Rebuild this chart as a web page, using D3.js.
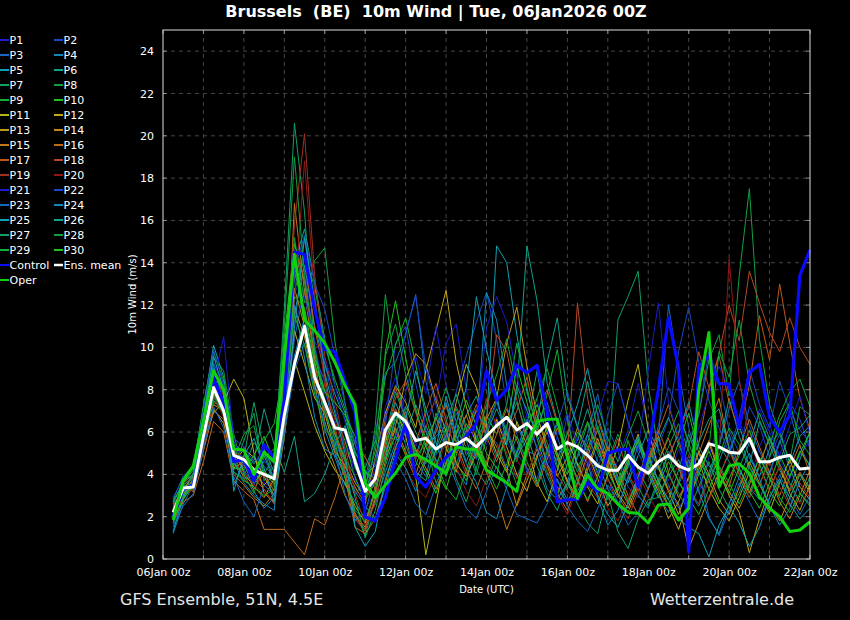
<!DOCTYPE html>
<html>
<head>
<meta charset="utf-8">
<script src="https://cdn.jsdelivr.net/npm/d3@7.9.0/dist/d3.min.js"></script>
<style>
  html, body { margin: 0; padding: 0; background: #000; }
  svg { display: block; font-family: "DejaVu Sans", sans-serif; }
</style>
</head>
<body>
<svg id="chart" width="850" height="620"></svg>
<script>
// forecast steps: every 6 h from +6 h to +384 h
const hours = d3.range(6, 385, 6);
const dayTicks = d3.range(0, 385, 24);
const labelTicks = [0, 48, 96, 144, 192, 240, 288, 336, 384];
const tickLabels = ["06Jan 00z", "08Jan 00z", "10Jan 00z", "12Jan 00z", "14Jan 00z",
  "16Jan 00z", "18Jan 00z", "20Jan 00z", "22Jan 00z"];
const yTicks = d3.range(0, 25, 2);

// ensemble members (m/s)
const p01 = [2.0,3.1,3.6,6.2,8.6,7.2,4.4,4.9, 4.1,3.6,3.3,7.5,12.5,13.8,10.1,7.9, 6.4,5.9,3.9,2.4,3.1,7.2,8.6,6.9, 5.3,6.8,7.4,10.2,11.1,8.0,6.2,5.4, 6.7,5.5,4.8,6.9,7.6,5.1,3.2,4.4, 5.8,4.6,3.3,2.9,4.7,6.1,8.3,6.2, 4.4,3.7,5.2,4.0,3.1,4.8,6.6,5.5, 4.1,3.6,5.3,6.4,4.7,3.8,4.9,5.6];
const p02 = [1.6,2.8,3.9,6.6,9.3,8.1,5.3,4.2, 3.5,4.4,3.9,8.1,13.2,15.1,12.0,9.3, 7.1,5.2,4.4,3.1,4.6,6.3,10.2,11.0, 8.3,6.1,4.9,5.6,7.9,9.6,11.2,12.6, 10.4,7.2,5.9,4.1,3.8,5.2,4.6,6.8, 4.3,3.6,4.8,6.2,5.1,3.4,2.9,4.5, 6.3,8.1,7.0,5.4,6.9,9.8,8.4,6.1, 5.0,7.2,6.3,4.8,5.9,7.4,6.6,5.2];
const p03 = [2.5,3.4,3.2,5.4,7.6,6.9,4.1,3.8, 3.9,4.6,4.2,6.4,10.4,12.8,9.6,8.4, 5.6,4.4,3.0,3.8,5.9,8.8,9.3,10.6, 12.5,8.4,6.3,5.2,4.4,6.0,7.1,5.8, 5.5,4.3,3.9,5.0,6.2,7.4,5.8,4.2, 3.5,5.9,7.8,5.4,3.7,4.3,5.6,4.1, 5.7,12.0,8.9,6.2,4.6,3.9,5.3,7.1, 8.4,6.3,5.1,4.0,5.5,6.9,5.3,4.4];
const p04 = [1.2,2.6,3.5,5.9,9.0,7.8,3.5,4.6, 3.2,2.4,2.9,6.2,9.6,11.4,8.7,6.1, 4.8,3.5,2.7,1.9,2.6,4.1,5.5,7.0, 4.6,3.9,5.8,6.3,4.2,3.5,6.1,12.6, 11.3,8.2,6.4,5.1,4.9,3.3,2.8,3.6, 5.4,4.5,2.9,1.6,2.3,3.9,3.0,2.4, 3.6,5.1,4.4,3.2,2.5,3.8,4.6,5.9, 4.2,3.4,2.8,4.1,5.6,4.3,3.1,2.6];
const p05 = [2.8,3.9,4.4,7.1,10.1,8.6,5.4,5.1, 4.5,5.2,4.1,7.9,11.6,13.9,11.0,9.2, 7.8,6.6,5.1,4.0,4.4,5.6,7.4,6.2, 4.9,6.3,5.2,7.7,5.9,4.6,5.8,6.4, 14.8,14.0,10.6,7.9,6.2,5.1,4.7,5.9, 7.3,9.0,6.8,5.2,4.1,3.6,4.9,6.1, 5.2,4.7,6.0,7.4,5.3,4.4,3.9,5.0, 6.3,4.8,3.9,5.2,6.1,4.5,5.8,6.3];
const p06 = [2.3,3.0,3.7,6.0,8.2,7.5,4.8,4.3, 5.5,4.9,3.6,9.2,14.0,15.6,13.1,10.4, 8.2,6.9,5.4,4.2,3.3,4.9,6.6,5.8, 7.3,6.0,4.7,3.9,5.5,6.8,7.7,6.1, 4.8,5.6,7.9,14.8,12.2,8.3,6.5,4.9, 5.6,7.1,5.4,3.8,2.9,4.4,5.7,4.3, 3.5,2.8,4.2,5.9,4.6,3.9,5.3,7.6, 5.8,4.4,6.5,5.4,4.2,3.3,4.7,6.0];
const p07 = [1.9,3.5,3.3,5.6,7.9,6.8,4.2,5.6, 6.9,3.7,4.4,11.8,20.6,16.4,9.8,7.2, 5.3,4.1,2.2,1.1,2.9,5.8,7.9,6.6, 5.1,4.5,6.9,5.7,3.8,2.7,4.3,6.2, 7.5,5.9,4.6,6.3,8.9,6.1,4.4,3.3, 4.9,6.4,5.0,4.1,11.3,12.4,13.6,8.2, 5.1,3.9,4.7,3.3,2.6,4.1,5.4,4.6, 3.8,2.9,4.4,5.8,4.5,3.6,2.7,3.9];
const p08 = [2.6,3.2,4.1,6.8,9.5,8.9,5.9,4.0, 3.1,4.8,5.2,8.6,15.2,12.1,14.1,14.7, 10.3,7.4,4.9,3.1,6.3,12.5,8.8,6.4, 4.8,5.5,3.6,4.4,6.1,5.3,4.0,5.7, 6.4,4.8,3.5,4.9,6.7,5.5,4.3,6.0, 5.2,3.9,3.1,4.6,5.9,4.7,3.4,2.5, 3.8,4.9,3.6,5.4,6.8,9.4,10.6,7.7, 13.4,17.5,10.4,7.3,5.9,4.6,7.2,6.8];
const p09 = [2.1,3.6,4.2,7.3,9.8,8.4,5.0,4.5, 4.0,5.6,6.4,9.1,12.7,14.2,12.9,10.1, 8.5,7.1,4.3,3.5,5.1,8.6,10.1,11.4, 9.2,6.7,5.0,6.2,4.6,3.7,5.3,6.8, 5.9,7.3,10.2,8.1,6.0,7.8,9.9,6.6, 4.4,5.1,6.3,4.8,3.5,5.6,4.2,3.3, 4.6,5.8,7.0,5.5,4.1,3.6,4.9,6.2, 5.4,4.3,3.5,4.8,6.5,7.4,5.6,4.9];
const p10 = [1.7,3.0,3.8,6.3,8.8,7.9,4.6,3.9, 3.6,4.2,3.5,10.5,14.9,13.1,9.5,8.0, 6.7,5.6,3.8,2.8,3.6,9.8,12.2,9.5, 7.1,5.3,4.2,3.3,4.9,6.4,5.6,4.5, 3.9,6.2,9.1,7.4,5.7,4.1,3.0,4.5, 6.0,5.3,4.1,2.8,3.4,4.8,5.5,4.0, 2.9,4.1,5.5,6.9,5.0,3.7,2.6,3.8, 4.9,6.1,4.5,3.2,2.5,3.9,5.1,4.4];
const p11 = [2.4,3.3,3.9,5.6,6.9,7.4,8.5,7.6, 5.0,3.1,2.7,5.8,9.4,7.9,6.3,5.1, 4.2,3.6,2.5,1.7,3.2,5.5,7.1,5.8, 3.9,0.2,2.6,5.1,7.4,9.2,8.1,6.3, 5.0,4.1,6.5,5.4,3.6,2.7,4.2,5.6, 4.5,3.4,2.6,4.0,5.3,7.5,9.2,6.1, 4.3,3.2,2.1,3.5,4.6,3.3,2.4,1.8, 2.9,4.1,3.0,2.2,3.6,4.7,3.4,2.8];
const p12 = [2.2,2.9,3.4,5.2,7.1,6.4,4.5,5.2, 4.8,3.9,3.0,6.6,10.8,9.2,7.6,6.9, 5.1,4.4,3.4,2.6,4.8,6.9,8.2,7.4, 6.2,8.9,10.8,12.7,9.3,7.2,5.6,4.3, 6.6,5.3,4.0,3.2,4.8,6.3,5.0,3.7, 2.9,4.4,5.7,4.3,3.1,2.4,3.6,4.9, 3.7,2.5,1.4,2.8,4.2,5.5,4.1,3.0, 2.2,0.3,1.9,3.3,4.4,3.1,2.3,3.5];
const p13 = [2.7,3.6,4.0,6.1,7.3,7.0,5.2,4.1, 3.4,2.9,3.8,7.2,11.9,10.5,8.1,7.4, 5.9,4.7,3.6,2.9,3.7,5.0,6.3,8.5, 9.7,9.2,7.5,6.0,4.5,3.9,5.0,6.6, 7.6,10.2,11.9,9.1,6.8,5.2,3.9,4.8, 6.2,5.0,3.8,2.5,3.3,4.6,5.9,4.2, 3.2,1.9,2.7,3.9,5.1,4.0,2.8,2.1, 3.4,4.6,3.6,2.5,1.8,2.9,4.0,3.1];
const p14 = [2.0,3.1,3.6,5.7,7.8,7.1,4.3,4.6, 4.1,3.5,4.0,8.2,12.8,11.0,8.3,5.6, 4.4,3.0,2.1,1.5,2.8,4.6,6.2,5.1, 4.0,5.4,6.7,5.3,4.1,5.8,7.0,6.2, 5.3,4.2,2.5,3.7,4.9,6.0,4.8,3.6, 2.8,4.2,5.5,4.7,3.5,2.6,3.9,5.2, 4.4,3.3,2.6,0.5,1.7,2.9,4.1,3.2, 2.4,3.5,4.8,3.9,2.7,1.9,3.0,4.2];
const p15 = [2.3,3.4,3.2,5.1,7.0,6.6,4.0,3.5, 2.9,2.5,3.1,6.3,16.8,12.6,9.4,6.5, 5.0,3.9,1.5,1.2,1.9,3.6,5.3,6.4, 5.2,4.3,3.3,4.5,5.9,6.8,5.4,4.1, 3.0,1.4,2.6,4.0,5.2,4.4,3.1,2.3, 3.6,4.9,6.1,4.5,3.0,2.2,3.4,4.6, 5.8,4.1,2.9,3.8,5.0,6.3,7.6,5.2, 4.0,3.1,4.5,5.7,4.4,3.2,4.1,3.3];
const p16 = [1.8,2.7,3.0,4.6,6.5,6.0,3.7,3.2, 2.8,1.4,1.4,1.4,0.8,0.2,1.9,1.6, 2.9,4.5,5.6,4.8,3.9,5.2,6.1,4.9, 3.8,4.7,6.0,7.3,5.5,4.2,3.3,4.6, 5.9,7.1,5.6,4.3,3.4,4.7,6.2,5.0, 3.8,2.7,3.9,5.3,4.2,3.0,2.1,3.3, 4.6,5.7,4.3,3.1,4.4,5.6,4.3,3.4, 5.2,6.6,5.3,4.1,3.0,4.3,5.4,4.0];
const p17 = [2.5,3.3,3.7,5.5,7.4,7.2,4.9,3.8, 3.3,4.1,3.2,7.7,13.5,14.3,10.9,8.7, 6.0,4.2,2.0,1.4,3.5,6.7,8.1,6.7, 5.5,7.0,8.3,6.6,5.0,6.1,7.3,5.8, 4.6,5.9,7.0,8.6,6.3,4.5,3.4,2.6, 3.9,5.2,6.6,5.1,3.9,2.8,3.7,4.8, 6.0,7.3,5.6,4.2,5.5,8.0,9.6,7.4, 6.1,8.2,11.5,9.4,13.0,10.2,7.6,6.1];
const p18 = [2.1,3.2,3.5,5.9,8.3,7.4,4.7,4.4, 3.8,3.3,2.6,8.9,14.6,13.3,9.1,7.0, 6.3,4.0,1.9,1.3,3.0,5.7,7.6,8.4, 6.9,5.6,4.4,5.8,7.2,6.1,4.9,6.6, 10.6,9.8,7.5,5.6,6.9,8.0,6.4,5.0, 12.1,7.6,5.3,4.4,5.7,4.0,3.2,4.6, 6.1,4.9,5.9,7.2,9.8,8.1,9.7,12.0, 10.3,13.6,12.1,10.7,9.8,11.4,10.0,9.2];
const p19 = [2.4,3.5,3.8,6.4,8.9,7.7,5.1,4.8, 4.3,3.9,3.4,7.9,15.8,20.1,13.4,9.6, 7.5,5.3,3.1,1.6,2.6,5.1,7.1,6.0, 4.7,6.2,7.7,6.4,5.2,4.0,5.5,7.6, 6.3,5.0,3.8,4.9,6.1,5.3,4.0,3.2, 2.8,3.5,2.9,3.8,2.6,1.9,3.2,4.4, 3.3,2.5,3.7,4.9,3.6,2.8,3.9,5.1, 4.0,2.9,3.5,4.6,3.4,2.5,3.6,2.9];
const p20 = [2.0,3.0,3.3,5.3,7.7,6.7,4.4,4.1, 3.5,3.1,2.8,6.8,12.2,18.8,12.5,8.1, 6.6,4.8,3.3,2.7,4.1,6.0,5.3,4.3, 3.4,2.9,4.1,5.6,4.4,3.2,2.5,3.8, 5.1,6.3,4.7,3.9,5.4,4.2,3.0,2.1, 3.4,4.8,3.6,2.4,1.8,2.9,4.1,3.0, 2.2,3.3,4.5,3.4,2.6,3.7,5.0,14.2, 8.5,5.6,4.3,3.2,4.4,3.5,2.6,3.3];
const p21 = [2.2,3.4,3.4,6.0,8.4,10.5,5.6,4.5, 4.0,4.7,3.9,7.0,11.2,12.4,10.3,9.4, 8.2,6.5,3.7,3.0,4.3,6.1,5.6,7.9, 9.6,7.8,11.0,8.2,6.3,5.0,6.4,10.9, 12.4,11.2,8.6,6.7,5.3,4.4,5.8,6.9, 5.4,4.3,6.7,8.4,8.3,6.4,5.1,8.9, 12.1,7.4,5.7,4.5,6.2,7.8,9.1,8.0, 6.5,5.3,7.1,6.0,4.9,6.3,7.7,5.9];
const p22 = [2.9,3.8,4.3,7.0,9.9,8.2,5.7,5.3, 4.6,5.0,4.5,9.5,13.7,15.3,13.0,11.8, 9.6,7.3,5.5,3.9,4.7,6.8,8.0,10.7, 12.4,9.0,7.3,5.5,6.9,5.8,4.7,6.0, 7.4,6.1,5.0,4.3,3.6,4.9,6.4,7.9, 6.3,5.0,4.0,6.8,8.3,6.5,5.0,4.1, 5.3,6.6,9.8,11.9,9.3,7.5,6.2,5.0, 6.7,9.0,7.3,6.2,8.4,7.0,6.1,5.5];
const p23 = [1.5,2.5,3.1,5.2,7.2,6.2,3.9,2.7, 2.0,3.5,3.0,5.9,8.9,10.2,8.0,6.4, 5.2,3.1,1.8,2.2,4.0,5.3,4.6,3.8, 2.6,2.1,3.5,4.8,3.6,2.4,1.9,3.2, 4.4,3.3,2.1,1.9,1.7,2.6,3.8,2.5, 1.8,1.3,2.4,3.5,2.7,1.6,2.2,3.4, 4.5,3.5,2.4,3.1,4.2,2.0,1.1,2.3, 3.6,2.7,1.8,2.9,4.0,2.9,2.1,3.0];
const p24 = [2.6,3.7,4.0,6.5,9.2,7.3,4.6,3.6, 3.0,2.6,2.3,6.9,12.0,9.5,6.7,5.2, 4.9,4.1,3.2,2.5,1.9,3.4,5.0,4.3, 3.2,4.7,6.2,7.4,5.8,4.5,3.6,2.2, 1.9,3.4,5.1,6.6,5.2,3.9,2.9,3.5, 4.8,5.9,4.6,3.3,2.5,3.8,5.4,4.2, 3.0,2.2,3.5,4.7,3.2,1.9,1.2,2.6, 3.9,5.0,3.8,2.5,1.6,2.4,3.7,4.6];
const p25 = [1.3,2.9,3.7,6.7,9.6,8.0,3.2,4.9, 5.7,4.3,2.7,6.5,10.9,15.2,12.2,8.8, 6.9,5.0,1.5,0.6,1.3,3.8,5.2,6.6, 8.9,7.1,5.5,4.1,6.4,8.1,12.4,9.9, 7.8,5.4,8.2,7.0,5.9,4.5,3.7,2.8, 3.2,4.1,3.0,2.1,1.5,2.6,3.9,4.8, 3.7,2.8,1.9,1.5,1.2,0.1,1.6,2.5, 1.7,0.6,1.5,2.9,3.8,2.6,1.9,2.4];
const p26 = [2.4,3.1,4.0,6.4,8.0,7.6,4.5,4.0, 4.7,7.1,5.4,4.1,5.8,2.7,3.1,4.0, 5.4,6.3,5.0,4.3,5.6,4.7,6.8,5.4, 4.1,3.7,5.2,6.5,7.8,6.2,4.8,5.9, 7.1,6.0,4.8,5.7,6.4,9.3,11.4,7.7, 6.2,8.4,6.1,4.9,3.6,4.7,5.8,4.5, 5.6,6.7,5.4,4.3,5.5,6.6,7.1,5.2, 4.3,5.5,6.9,5.7,4.6,5.9,6.2,6.8];
const p27 = [2.7,3.5,3.9,6.2,8.5,8.1,4.9,4.8, 7.4,5.1,3.7,8.4,13.6,11.7,8.9,6.9, 5.7,4.6,2.9,1.0,2.3,4.4,5.9,7.2, 6.0,5.0,4.3,5.9,7.1,5.6,4.2,3.5, 4.9,6.3,7.4,5.9,4.4,3.1,2.3,3.6, 2.6,1.7,1.2,3.1,1.3,0.5,1.9,2.8, 2.9,4.0,3.1,2.3,3.4,4.6,3.3,2.4, 3.1,4.4,3.5,2.6,3.7,2.9,4.0,3.4];
const p28 = [2.0,3.3,3.6,5.8,7.5,6.9,4.7,5.9, 6.3,4.0,4.9,11.0,19.0,13.4,10.0,7.5, 6.0,4.8,3.9,2.7,5.5,9.6,11.1,8.7, 7.0,5.7,6.6,8.1,6.5,4.9,5.6,7.3, 8.7,10.4,8.0,6.1,7.6,9.0,7.2,5.3, 4.1,5.5,7.3,5.7,4.6,5.8,7.0,5.5, 4.2,5.3,6.4,5.1,4.0,5.2,9.8,8.6, 11.3,8.3,6.6,5.4,6.8,7.9,8.5,7.2];
const p29 = [2.3,3.0,3.4,5.5,7.7,7.0,4.1,3.7, 3.4,3.0,3.3,7.4,11.5,10.1,7.8,6.2, 5.5,3.8,2.3,1.8,3.3,4.8,5.8,5.0, 4.4,5.8,4.6,3.4,2.8,4.2,5.7,4.3, 3.3,4.5,5.8,4.6,3.5,5.1,6.5,4.9, 3.7,2.8,3.9,5.0,3.9,2.7,3.6,4.7, 3.4,2.5,3.6,2.9,2.1,3.3,4.4,3.6, 2.6,3.7,4.8,3.8,2.9,2.2,3.1,2.5];
const p30 = [1.9,2.8,3.6,6.0,8.1,7.3,4.3,4.2, 4.9,5.8,4.6,8.0,12.4,11.9,9.2,7.9, 7.4,6.8,5.8,4.1,3.8,5.3,6.9,6.1, 5.1,4.1,3.1,4.6,5.9,7.5,6.3,5.0, 4.3,3.6,5.0,6.2,7.3,6.0,4.9,4.0, 5.3,6.5,5.2,4.1,3.2,4.5,5.6,4.4, 3.5,4.6,3.7,2.8,4.0,5.1,4.0,3.1, 4.3,3.2,2.4,3.6,4.9,3.9,5.0,6.0];

const control = [2.0,3.3,3.5,5.8,8.5,7.4,4.6,4.7, 3.7,5.4,4.8,7.5,14.5,14.4,11.8,9.9, 9.8,8.4,6.9,2.0,1.8,2.9,4.7,6.4, 3.9,3.4,4.2,4.8,5.2,5.8,6.4,8.9, 7.5,8.0,9.15,8.8,9.15,7.0,2.7,2.8, 2.8,3.6,3.2,5.0,5.15,5.2,3.4,5.15, 8.0,11.4,9.0,0.35,9.1,9.6,8.3,8.25, 6.2,8.8,9.2,6.7,6.0,6.8,13.4,14.6];
const ensMean = [2.2,3.35,3.4,5.8,8.1,7.0,4.9,4.7, 4.2,4.0,3.8,6.8,9.2,11.0,8.6,7.4, 6.2,6.1,4.6,3.2,3.8,6.1,6.9,6.5, 5.6,5.7,5.2,5.5,5.4,5.7,5.3,5.8, 6.3,6.7,6.1,6.4,5.9,6.4,5.2,5.5, 5.3,4.9,4.4,4.2,4.2,4.9,4.35,4.05, 4.6,4.9,4.4,4.2,4.5,5.45,5.3,5.05, 5.0,5.7,4.6,4.6,4.8,4.9,4.25,4.3];
const oper = [1.85,3.7,4.4,6.5,8.9,8.0,5.2,5.15, 4.0,5.05,4.6,9.5,14.4,11.3,10.8,10.2, 9.3,8.2,7.3,3.6,2.9,3.5,4.05,4.8, 4.95,4.7,4.4,4.05,5.3,5.2,5.17,4.2, 3.9,3.6,3.2,5.3,6.5,6.6,6.6,4.8, 2.86,3.96,3.33,3.1,2.6,2.2,2.16,1.7, 2.55,2.6,1.84,2.4,8.0,10.7,3.4,4.4, 4.5,4.05,2.94,2.4,2.0,1.3,1.37,1.76];

const memberNames = d3.range(1, 31).map(i => "P" + i);
const members = [p01,p02,p03,p04,p05,p06,p07,p08,p09,p10,p11,p12,p13,p14,p15,
  p16,p17,p18,p19,p20,p21,p22,p23,p24,p25,p26,p27,p28,p29,p30];
// colours cycle blue -> teal -> green -> yellow -> orange -> red, then repeat
const palette = ["#1c1cc8","#1a48c4","#1468c0","#1088bc","#10a0b4","#10a088","#10a064",
  "#10a040","#10b030","#20c020","#b4b414","#c0a818","#c09818","#c08818","#c07818",
  "#c06818","#c05818","#b84828","#a03020","#901818"];
const memberColor = i => palette[i % palette.length];

const svg = d3.select("#chart");
const W = 850, H = 620;
const plot = { left: 163, right: 810, top: 30, bottom: 559 };

svg.append("rect").attr("width", W).attr("height", H).attr("fill", "#000");

const x = d3.scaleLinear().domain([0, 384]).range([plot.left, plot.right]);
const y = d3.scaleLinear().domain([0, 25]).range([plot.bottom, plot.top]);

// grid
const grid = svg.append("g").attr("stroke", "#464646").attr("stroke-dasharray", "4,4");
dayTicks.slice(1, -1).forEach(h => {
  grid.append("line").attr("x1", x(h)).attr("x2", x(h))
    .attr("y1", plot.top).attr("y2", plot.bottom);
});
yTicks.slice(1).forEach(v => {
  grid.append("line").attr("x1", plot.left).attr("x2", plot.right)
    .attr("y1", y(v)).attr("y2", y(v));
});

// axes
const xAxis = d3.axisBottom(x).tickValues(labelTicks)
  .tickFormat((d, i) => tickLabels[i]).tickSize(0).tickPadding(9);
const gx = svg.append("g").attr("transform", `translate(0,${plot.bottom})`).call(xAxis);
const yAxis = d3.axisLeft(y).tickValues(yTicks).tickSize(0).tickPadding(9);
const gy = svg.append("g").attr("transform", `translate(${plot.left},0)`).call(yAxis);
[gx, gy].forEach(g => {
  g.select(".domain").remove();
  g.selectAll("text").attr("fill", "#fff").attr("font-size", 11)
    .attr("font-family", "DejaVu Sans");
});

// small inner tick marks
const marks = svg.append("g").attr("stroke", "#888");
dayTicks.forEach(h => {
  marks.append("line").attr("x1", x(h)).attr("x2", x(h))
    .attr("y1", plot.bottom).attr("y2", plot.bottom - 4);
  marks.append("line").attr("x1", x(h)).attr("x2", x(h))
    .attr("y1", plot.top).attr("y2", plot.top + 4);
});
yTicks.forEach(v => {
  marks.append("line").attr("x1", plot.left).attr("x2", plot.left + 4)
    .attr("y1", y(v)).attr("y2", y(v));
  marks.append("line").attr("x1", plot.right).attr("x2", plot.right - 4)
    .attr("y1", y(v)).attr("y2", y(v));
});

// series
const line = d3.line().x((d, i) => x(hours[i])).y(d => y(d));
const series = svg.append("g").attr("fill", "none").attr("stroke-linejoin", "round");
members.forEach((vals, i) => {
  series.append("path").attr("d", line(vals))
    .attr("stroke", memberColor(i)).attr("stroke-width", 1);
});
series.append("path").attr("d", line(control)).attr("stroke", "#0a0aff").attr("stroke-width", 3.2);
series.append("path").attr("d", line(ensMean)).attr("stroke", "#fff").attr("stroke-width", 3);
series.append("path").attr("d", line(oper)).attr("stroke", "#10d010").attr("stroke-width", 3);

// frame
svg.append("rect").attr("x", plot.left).attr("y", plot.top)
  .attr("width", plot.right - plot.left).attr("height", plot.bottom - plot.top)
  .attr("fill", "none").attr("stroke", "#ddd").attr("stroke-width", 1);

// titles
svg.append("text").attr("x", 436).attr("y", 17).attr("text-anchor", "middle")
  .attr("fill", "#fff").attr("font-size", 16).attr("font-weight", "bold")
  .text("Brussels  (BE)  10m Wind | Tue, 06Jan2026 00Z").style("white-space", "pre");
svg.append("text").attr("transform", `translate(136,${(plot.top + plot.bottom) / 2}) rotate(-90)`)
  .attr("text-anchor", "middle").attr("fill", "#fff").attr("font-size", 10)
  .text("10m Wind (m/s)");
svg.append("text").attr("x", x(192)).attr("y", 593).attr("text-anchor", "middle")
  .attr("fill", "#fff").attr("font-size", 10).text("Date (UTC)");
svg.append("text").attr("x", 120).attr("y", 605).attr("fill", "#e6e6e6")
  .attr("font-size", 16).text("GFS Ensemble, 51N, 4.5E");
svg.append("text").attr("x", 794).attr("y", 605).attr("text-anchor", "end")
  .attr("fill", "#e6e6e6").attr("font-size", 16).text("Wetterzentrale.de");

// legend
const legendItems = memberNames.map((n, i) => ({ name: n, color: memberColor(i), w: 2 }))
  .concat([{ name: "Control", color: "#0a0aff", w: 2 }, { name: "Ens. mean", color: "#fff", w: 2.5 },
    { name: "Oper", color: "#10d010", w: 2 }]);
const legend = svg.append("g").attr("font-size", 11);
legendItems.forEach((d, i) => {
  const col = i % 2, row = Math.floor(i / 2);
  const lx = col === 0 ? 0 : 54, ly = 40 + row * 15;
  legend.append("line").attr("x1", lx).attr("x2", lx + 9).attr("y1", ly).attr("y2", ly)
    .attr("stroke", d.color).attr("stroke-width", d.w);
  legend.append("text").attr("x", lx + 9.5).attr("y", ly + 4).attr("fill", "#fff").text(d.name);
});
</script>
</body>
</html>
